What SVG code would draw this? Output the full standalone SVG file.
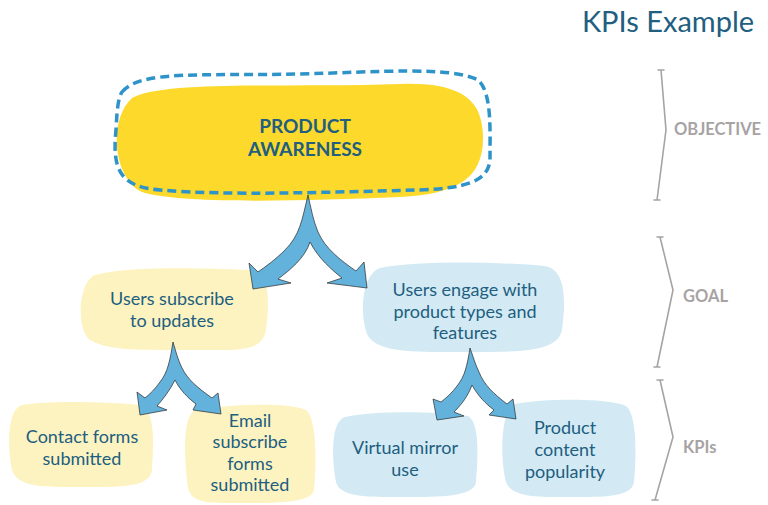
<svg xmlns="http://www.w3.org/2000/svg" width="768" height="505" viewBox="0 0 768 505">
<defs>
<style>
.t{font-family:"Lato","Noto Sans",sans-serif;fill:#215e80;text-anchor:middle;font-size:18px}
.big{font-size:19px;font-weight:bold}
.lab{font-family:"Lato","Noto Sans",sans-serif;fill:#a8a3a3;font-weight:bold;font-size:16.5px}
.yel{fill:#fdf3c0}
.blu{fill:#d3eaf4}
.arr{fill:#62b2dc;stroke:#2a2a2a;stroke-width:0.7;stroke-linejoin:round}
.br{fill:none;stroke:#a8a3a3;stroke-width:1.6;stroke-linecap:round;stroke-linejoin:round}
</style>
</defs>
<rect width="768" height="505" fill="#ffffff"/>
<text x="668" y="32" style="font-family:'Lato','Noto Sans',sans-serif;font-size:29px;fill:#215e80;text-anchor:middle">KPIs Example</text>

<g id="objective">
<path d="M132 98 C165 80 290 88 400 84 C462 82 484 100 483 140 C482 178 458 194 400 197 C300 201 190 204 145 193 C115 184 106 122 132 98 Z" fill="#fcd92a"/>
<path d="M122 92 C140 70 200 76 300 74 C380 72 450 66 478 80 C492 92 490 130 490 160 C488 182 465 188 420 190 C330 192 230 196 160 190 C120 187 112 170 116 130 C117 110 118 98 122 92 Z" fill="none" stroke="#2e93c8" stroke-width="3.5" stroke-dasharray="9 5"/>
<text class="t big" x="305" y="133">PRODUCT</text>
<text class="t big" x="305" y="156">AWARENESS</text>
</g>

<g id="goal-subscribe">
<path class="yel" d="M95 275 C130 266 200 268 250 270 C270 272 270 300 266 330 C262 352 240 350 200 350 C150 350 110 352 90 340 C76 330 78 282 95 275 Z"/>
<text class="t" x="172" y="305">Users subscribe</text>
<text class="t" x="172" y="327">to updates</text>
</g>

<g id="goal-engage">
<path class="blu" d="M380 268 C420 260 500 262 545 266 C566 270 566 300 562 330 C558 352 520 352 470 352 C420 352 380 354 368 336 C360 320 360 275 380 268 Z"/>
<text class="t" x="465" y="296">Users engage with</text>
<text class="t" x="465" y="318">product types and</text>
<text class="t" x="465" y="339">features</text>
</g>

<g id="kpi-contact">
<path class="yel" d="M22 405 C50 400 110 402 140 405 C155 410 154 440 152 470 C150 488 120 487 80 487 C45 487 18 488 12 470 C8 450 6 410 22 405 Z"/>
<text class="t" x="82" y="443">Contact forms</text>
<text class="t" x="82" y="465">submitted</text>
</g>

<g id="kpi-email">
<path class="yel" d="M196 410 C230 404 290 402 306 410 C318 420 316 470 314 490 C312 504 270 503 240 503 C210 503 192 504 188 488 C184 460 182 414 196 410 Z"/>
<text class="t" x="250" y="427">Email</text>
<text class="t" x="250" y="448">subscribe</text>
<text class="t" x="250" y="470">forms</text>
<text class="t" x="250" y="491">submitted</text>
</g>

<g id="kpi-mirror">
<path class="blu" d="M345 417 C380 410 440 412 468 416 C480 422 478 460 476 482 C474 497 440 497 405 497 C370 497 340 498 336 482 C332 460 330 422 345 417 Z"/>
<text class="t" x="405" y="454">Virtual mirror</text>
<text class="t" x="405" y="476">use</text>
</g>

<g id="kpi-product">
<path class="blu" d="M515 404 C545 398 610 398 626 406 C638 416 636 460 634 482 C632 498 600 497 570 497 C540 497 512 498 506 482 C500 460 500 410 515 404 Z"/>
<text class="t" x="565" y="434">Product</text>
<text class="t" x="565" y="456">content</text>
<text class="t" x="565" y="478">popularity</text>
</g>

<g id="connectors">
<path class="arr" d="M308 195 C302 220 300 235 285 250 C275 260 265 267 258 272 L249 263 L253 289 L291 283 L278 279 C290 270 305 258 310 242 C318 258 332 270 342 278 L327 283 L367 288 L364 262 L356 271 C340 260 325 248 318 232 C313 220 311 208 308 195 Z"/>
<path class="arr" d="M173 342 C170 360 168 372 160 382 C155 389 150 394 145 398 L137 392 L140 415 L167 410 L157 406 C164 398 170 390 175 380 C180 390 188 398 196 404 L193 410 L221 414 L218 393 L212 398 C198 388 188 380 182 368 C178 360 176 352 173 342 Z"/>
<path class="arr" d="M470 348 C467 366 465 376 457 386 C452 393 446 398 441 402 L433 399 L437 420 L464 416 L454 412 C462 404 468 396 472 385 C478 396 486 404 494 410 L489 415 L516 419 L513 399 L507 404 C494 394 484 385 479 372 C475 364 473 356 470 348 Z"/>
</g>

<g id="legend">
<path class="br" d="M661 70 L666 130 L657 200 M658 70 L664 70 M654 200 L660 200"/>
<text class="lab" x="674" y="135">OBJECTIVE</text>
<path class="br" d="M660 237 L673 290 L657 367 M657 237 L663 237 M654 367 L660 367"/>
<text class="lab" x="683" y="302">GOAL</text>
<path class="br" d="M660 380 L673 437 L655 500 M657 380 L663 380 M652 500 L658 500"/>
<text class="lab" x="683" y="453">KPIs</text>
</g>
</svg>
